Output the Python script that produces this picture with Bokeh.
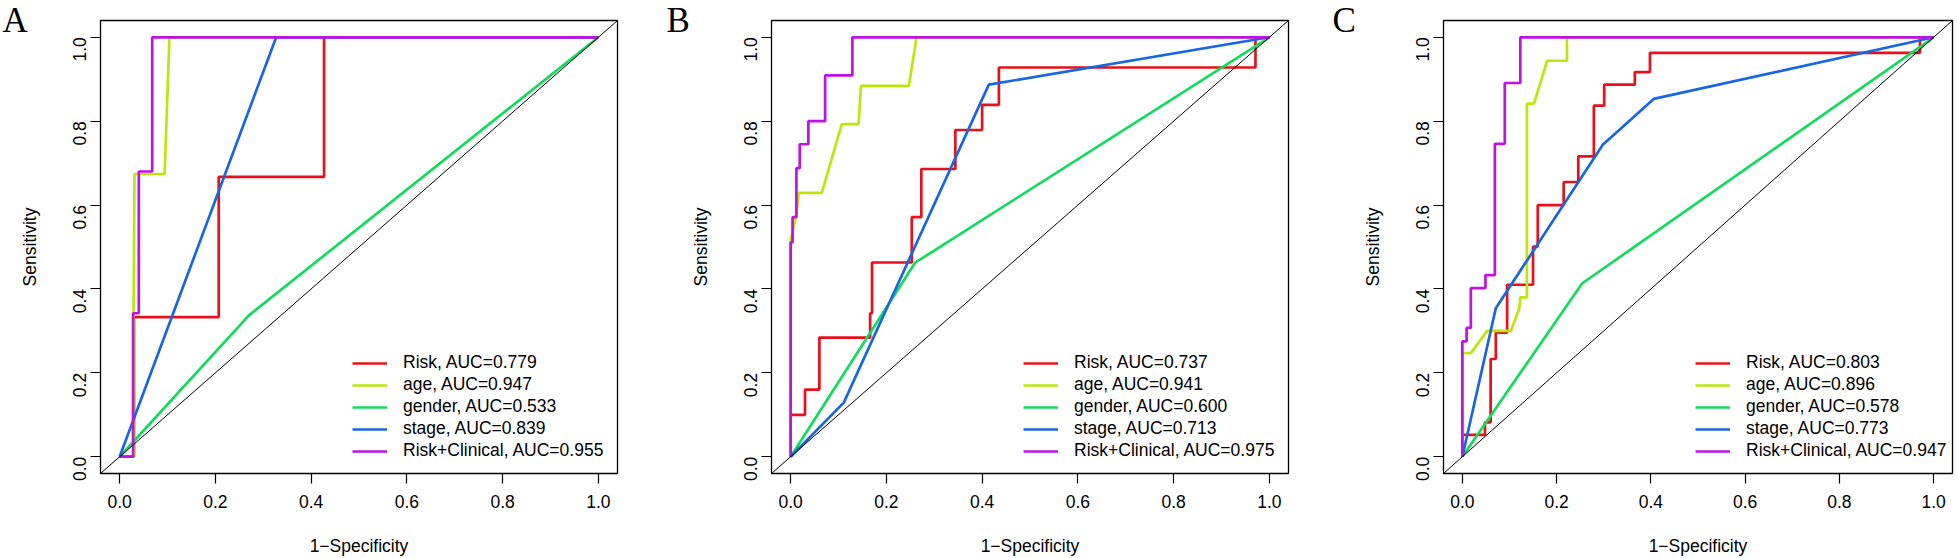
import math
from bokeh.plotting import figure
from bokeh.layouts import row
from bokeh.models import (Range1d, FixedTicker, Slope, Legend, LegendItem,
                          NumeralTickFormatter)
from bokeh.embed import file_html
from bokeh.resources import INLINE

# ---------------- data ----------------
series_names = ["Risk", "age", "gender", "stage", "Risk+Clinical"]
series_colors = ["#E8101A", "#BEE60A", "#12DC5C", "#1866E0", "#BE12E6"]
panel_letters = ["A", "B", "C"]
tick_values = [0.0, 0.2, 0.4, 0.6, 0.8, 1.0]
x_title = "1\u2212Specificity"
y_title = "Sensitivity"

# Panel A
A_auc = [0.779, 0.947, 0.533, 0.839, 0.955]
A_risk_x = [0, 0.030, 0.030, 0.207, 0.207, 0.427, 0.427, 1]
A_risk_y = [0, 0, 0.333, 0.333, 0.667, 0.667, 1, 1]
A_age_x = [0, 0.029, 0.029, 0.031, 0.094, 0.104, 1]
A_age_y = [0, 0, 0.333, 0.674, 0.674, 1, 1]
A_gender_x = [0, 0.270, 1]
A_gender_y = [0, 0.337, 1]
A_stage_x = [0, 0.327, 1]
A_stage_y = [0, 1, 1]
A_comb_x = [0, 0.028, 0.028, 0.040, 0.040, 0.068, 0.068, 1]
A_comb_y = [0, 0, 0.342, 0.342, 0.680, 0.680, 1, 1]

# Panel B
B_auc = [0.737, 0.941, 0.600, 0.713, 0.975]
B_risk_x = [0, 0, 0.030, 0.030, 0.060, 0.060, 0.166, 0.166, 0.170, 0.170, 0.253, 0.253,
            0.273, 0.273, 0.344, 0.344, 0.400, 0.400, 0.435, 0.435, 0.971, 0.971, 1]
B_risk_y = [0, 0.100, 0.100, 0.160, 0.160, 0.284, 0.284, 0.342, 0.342, 0.463, 0.463, 0.571,
            0.571, 0.686, 0.686, 0.779, 0.779, 0.839, 0.839, 0.928, 0.928, 1, 1]
B_age_x = [0, 0, 0.011, 0.017, 0.065, 0.107, 0.142, 0.147, 0.247, 0.263, 1]
B_age_y = [0, 0.516, 0.571, 0.629, 0.629, 0.793, 0.793, 0.884, 0.884, 1, 1]
B_gender_x = [0, 0.260, 1]
B_gender_y = [0, 0.4625, 1]
B_stage_x = [0, 0.111, 0.414, 1]
B_stage_y = [0, 0.129, 0.887, 1]
B_comb_x = [0, 0, 0.004, 0.004, 0.012, 0.012, 0.019, 0.019, 0.037, 0.037, 0.072, 0.072,
            0.129, 0.129, 1]
B_comb_y = [0, 0.511, 0.511, 0.571, 0.571, 0.688, 0.688, 0.745, 0.745, 0.800, 0.800, 0.909,
            0.909, 1, 1]

# Panel C
C_auc = [0.803, 0.896, 0.578, 0.773, 0.947]
C_risk_x = [0, 0, 0.048, 0.048, 0.060, 0.060, 0.071, 0.071, 0.095, 0.095, 0.150, 0.150,
            0.160, 0.160, 0.215, 0.215, 0.246, 0.246, 0.279, 0.279, 0.301, 0.301, 0.366,
            0.366, 0.398, 0.398, 0.971, 0.971, 1]
C_risk_y = [0, 0.052, 0.052, 0.082, 0.082, 0.233, 0.233, 0.296, 0.296, 0.410, 0.410, 0.501,
            0.501, 0.600, 0.600, 0.655, 0.655, 0.716, 0.716, 0.837, 0.837, 0.887, 0.887,
            0.917, 0.917, 0.963, 0.963, 1, 1]
C_age_x = [0, 0, 0.018, 0.053, 0.103, 0.121, 0.123, 0.137, 0.137, 0.152, 0.180, 0.222,
           0.222, 1]
C_age_y = [0, 0.247, 0.247, 0.300, 0.300, 0.354, 0.380, 0.380, 0.842, 0.842, 0.944, 0.944,
           1, 1]
C_gender_x = [0, 0.254, 1]
C_gender_y = [0, 0.413, 1]
C_stage_x = [0, 0.071, 0.298, 0.406, 1]
C_stage_y = [0, 0.354, 0.744, 0.853, 1]
C_comb_x = [0, 0, 0.009, 0.009, 0.018, 0.018, 0.049, 0.049, 0.069, 0.069, 0.090, 0.090,
            0.123, 0.123, 1]
C_comb_y = [0, 0.275, 0.275, 0.307, 0.307, 0.402, 0.402, 0.433, 0.433, 0.746, 0.746, 0.891,
            0.891, 1, 1]

A_curves = [(A_risk_x, A_risk_y), (A_age_x, A_age_y), (A_gender_x, A_gender_y),
            (A_stage_x, A_stage_y), (A_comb_x, A_comb_y)]
B_curves = [(B_risk_x, B_risk_y), (B_age_x, B_age_y), (B_gender_x, B_gender_y),
            (B_stage_x, B_stage_y), (B_comb_x, B_comb_y)]
C_curves = [(C_risk_x, C_risk_y), (C_age_x, C_age_y), (C_gender_x, C_gender_y),
            (C_stage_x, C_stage_y), (C_comb_x, C_comb_y)]

FONT = "Liberation Sans"
FS = "17.5px"
FRAME_H = 453


def make_panel(letter, curves, aucs, border_left, frame_w, border_right, letter_dx):
    p = figure(frame_width=frame_w, frame_height=FRAME_H,
               min_border_left=border_left, min_border_right=border_right,
               min_border_top=20, min_border_bottom=85,
               x_range=Range1d(-0.04, 1.04), y_range=Range1d(-0.04, 1.04),
               output_backend="svg", toolbar_location=None,
               background_fill_color="white", border_fill_color="white")
    p.xgrid.visible = False
    p.ygrid.visible = False
    p.outline_line_color = "black"
    p.outline_line_width = 1.3

    # panel letter, drawn as the figure title (outside the frame)
    p.title.text = letter
    p.title.align = "left"
    p.title.offset = letter_dx
    p.title.standoff = -40
    p.title.vertical_align = "middle"
    p.title.text_font = "Liberation Serif"
    p.title.text_font_size = "35px"
    p.title.text_font_style = "normal"
    p.title.text_color = "black"

    for ax in (p.xaxis[0], p.yaxis[0]):
        ax.ticker = FixedTicker(ticks=tick_values)
        ax.formatter = NumeralTickFormatter(format="0.0")
        ax.axis_line_color = None
        ax.major_tick_line_color = "black"
        ax.major_tick_line_width = 1.2
        ax.major_tick_out = 10
        ax.major_tick_in = 0
        ax.minor_tick_line_color = None
        ax.major_label_text_font = FONT
        ax.major_label_text_font_size = FS
        ax.major_label_text_color = "black"
        ax.axis_label_text_font = FONT
        ax.axis_label_text_font_size = FS
        ax.axis_label_text_font_style = "normal"
        ax.axis_label_text_color = "black"
    p.xaxis.axis_label = x_title
    p.yaxis.axis_label = y_title
    p.xaxis.major_label_standoff = 11
    p.yaxis.major_label_standoff = 11
    p.yaxis.major_label_orientation = math.pi / 2
    p.xaxis.axis_label_standoff = 25
    p.yaxis.axis_label_standoff = 24

    p.add_layout(Slope(gradient=1, y_intercept=0, line_color="black", line_width=1))

    items = []
    for (xs, ys), name, col, auc in zip(curves, series_names, series_colors, aucs):
        r = p.line(xs, ys, line_color=col, line_width=2.7)
        items.append(LegendItem(label=f"{name}, AUC={auc:.3f}", renderers=[r]))

    leg = Legend(items=items, location=(252, 12))
    leg.border_line_color = None
    leg.background_fill_alpha = 0
    leg.padding = 0
    leg.margin = 0
    leg.glyph_width = 35
    leg.glyph_height = 20
    leg.label_height = 20
    leg.spacing = 1
    leg.label_standoff = 16
    leg.label_text_font = FONT
    leg.label_text_font_size = FS
    leg.label_text_color = "black"
    p.add_layout(leg)
    return p


pA = make_panel(panel_letters[0], A_curves, A_auc, 100, 517, 47, -98)
pB = make_panel(panel_letters[1], B_curves, B_auc, 107, 517, 42, -105)
pC = make_panel(panel_letters[2], C_curves, C_auc, 113, 509, 5, -111)

layout = row(pA, pB, pC)
open("out.html", "w").write(file_html(layout, INLINE))
